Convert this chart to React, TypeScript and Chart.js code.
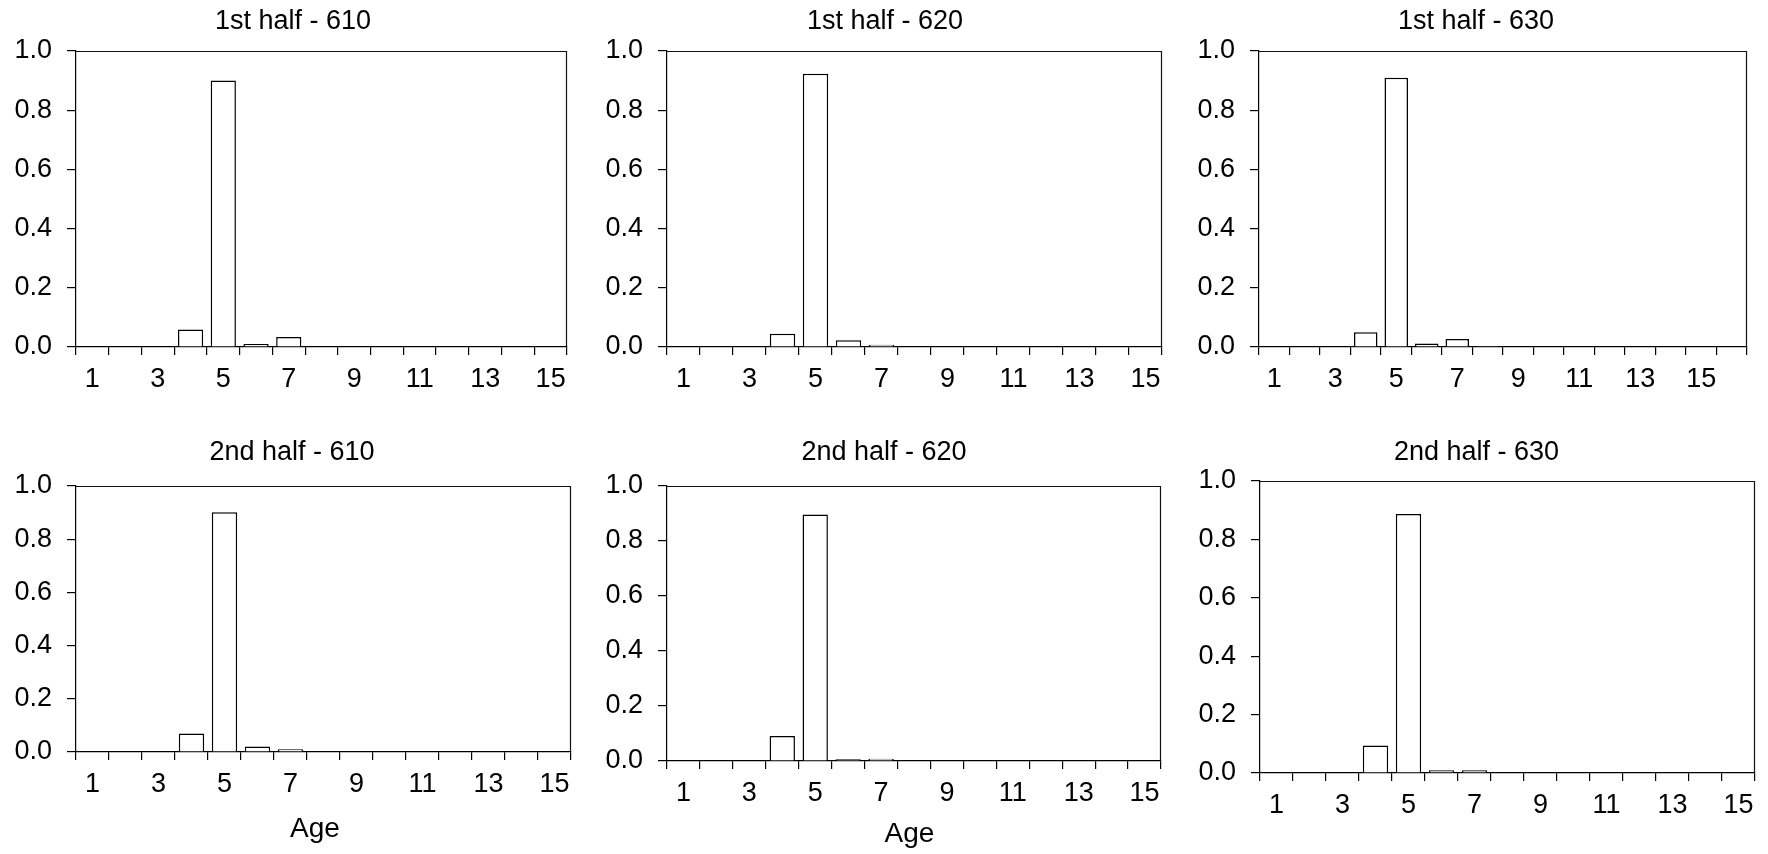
import React, { useEffect, useRef } from 'react';
import { Chart, registerables } from 'chart.js';

Chart.register(...registerables);

const FONT = "'Liberation Sans', Arial, Helvetica, sans-serif";

// ---- data ----
const AGES = ['1', '2', '3', '4', '5', '6', '7', '8', '9', '10', '11', '12', '13', '14', '15'];
const AGES_16 = [...AGES, '16'];

const FIRST_610 = [0, 0, 0, 0.059, 0.9, 0.01, 0.034, 0, 0, 0, 0, 0, 0, 0, 0];
const FIRST_620 = [0, 0, 0, 0.045, 0.923, 0.023, 0.008, 0.002, 0.001, 0, 0, 0, 0, 0, 0];
const FIRST_630 = [0, 0, 0, 0.05, 0.91, 0.012, 0.027, 0.003, 0.001, 0, 0, 0, 0, 0, 0, 0];
const SECOND_610 = [0, 0, 0.002, 0.07, 0.901, 0.021, 0.01, 0, 0, 0, 0, 0, 0, 0, 0];
const SECOND_620 = [0, 0, 0.002, 0.091, 0.896, 0.006, 0.008, 0, 0, 0.002, 0, 0, 0, 0, 0];
const SECOND_630 = [0, 0, 0.001, 0.094, 0.887, 0.009, 0.009, 0.001, 0, 0, 0, 0, 0, 0, 0];

const TITLES = ['1st half - 610', '1st half - 620', '1st half - 630', '2nd half - 610', '2nd half - 620', '2nd half - 630'];
const X_TITLE = 'Age';
const Y_MIN = 0;
const Y_MAX = 1;
const Y_STEP = 0.2;

// ---- layout (page pixels) ----
const PANELS = [
  { title: TITLES[0], labels: AGES, values: FIRST_610, axisX: 76, plotRight: 567, plotTop: 51, plotBottom: 347, rowTop: 0, rowHeight: 420, titleX: 293, titleY: 21.5, xLabel: '', xLabelX: 0, xLabelY: 0 },
  { title: TITLES[1], labels: AGES, values: FIRST_620, axisX: 667, plotRight: 1162, plotTop: 51, plotBottom: 347, rowTop: 0, rowHeight: 420, titleX: 885, titleY: 21.5, xLabel: '', xLabelX: 0, xLabelY: 0 },
  { title: TITLES[2], labels: AGES_16, values: FIRST_630, axisX: 1259, plotRight: 1747, plotTop: 51, plotBottom: 347, rowTop: 0, rowHeight: 420, titleX: 1476, titleY: 21.5, xLabel: '', xLabelX: 0, xLabelY: 0 },
  { title: TITLES[3], labels: AGES, values: SECOND_610, axisX: 76, plotRight: 571, plotTop: 486, plotBottom: 752, rowTop: 420, rowHeight: 434, titleX: 292, titleY: 452.5, xLabel: X_TITLE, xLabelX: 315, xLabelY: 829.5 },
  { title: TITLES[4], labels: AGES, values: SECOND_620, axisX: 667, plotRight: 1161, plotTop: 486, plotBottom: 761, rowTop: 420, rowHeight: 434, titleX: 884, titleY: 452.5, xLabel: X_TITLE, xLabelX: 909.5, xLabelY: 834 },
  { title: TITLES[5], labels: AGES, values: SECOND_630, axisX: 1260, plotRight: 1755, plotTop: 481, plotBottom: 773, rowTop: 420, rowHeight: 434, titleX: 1476.5, titleY: 452.5, xLabel: '', xLabelX: 0, xLabelY: 0 },
];

const YW = 74;
const PR = 12;

const textPlugin = {
  id: 'panelText',
  afterDraw(chart: any, _args: any, opts: any) {
    const ctx = chart.ctx;
    ctx.save();
    ctx.fillStyle = '#000';
    ctx.textAlign = 'center';
    ctx.textBaseline = 'middle';
    for (const t of opts.items || []) {
      ctx.font = `${t.size}px ${FONT}`;
      ctx.fillText(t.text, t.x, t.y);
    }
    ctx.restore();
  },
};

const framePlugin = {
  id: 'frame',
  afterDatasetsDraw(chart: any) {
    const { ctx, chartArea: a } = chart;
    ctx.save();
    ctx.strokeStyle = '#111';
    ctx.lineWidth = 1.2;
    ctx.beginPath();
    ctx.moveTo(a.left, a.top + 0.5);
    ctx.lineTo(a.right - 0.5, a.top + 0.5);
    ctx.lineTo(a.right - 0.5, a.bottom);
    ctx.stroke();
    ctx.restore();
  },
};

function PanelChart({ p }: { p: (typeof PANELS)[number] }) {
  const ref = useRef<HTMLCanvasElement>(null);
  const left = p.axisX - YW;
  const width = p.plotRight - left + PR;
  const height = p.rowHeight;

  useEffect(() => {
    if (!ref.current) return;
    const items: any[] = [{ text: p.title, x: p.titleX - left, y: p.titleY - p.rowTop, size: 27 }];
    if (p.xLabel) items.push({ text: p.xLabel, x: p.xLabelX - left, y: p.xLabelY - p.rowTop, size: 28 });
    const chart = new Chart(ref.current, {
      type: 'bar',
      data: {
        labels: p.labels,
        datasets: [
          {
            data: p.values,
            backgroundColor: '#ffffff',
            borderColor: '#000000',
            borderWidth: 1.5,
            barPercentage: 0.77,
            categoryPercentage: 1,
          },
        ],
      },
      options: {
        responsive: false,
        animation: false,
        events: [],
        layout: { padding: { left: 0, right: PR, top: p.plotTop - p.rowTop, bottom: 0 } },
        plugins: {
          legend: { display: false },
          tooltip: { enabled: false },
          title: { display: false },
          panelText: { items },
        } as any,
        scales: {
          x: {
            type: 'category',
            offset: true,
            afterFit: (s: any) => {
              s.height = height - (p.plotBottom - p.rowTop);
            },
            grid: { offset: true, drawOnChartArea: false, drawTicks: true, tickLength: 8, color: '#000', lineWidth: 1.2 },
            border: { display: true, color: '#000', width: 1.2 },
            ticks: {
              autoSkip: false,
              maxRotation: 0,
              minRotation: 0,
              padding: 8,
              color: '#000',
              font: { family: FONT, size: 27 },
              callback: function (this: any, value: any) {
                const l = this.getLabelForValue(value);
                return Number(l) % 2 === 1 ? l : '';
              },
            },
          },
          y: {
            type: 'linear',
            min: Y_MIN,
            max: Y_MAX,
            afterFit: (s: any) => {
              s.width = YW;
            },
            grid: { drawOnChartArea: false, drawTicks: true, tickLength: 9, color: '#000', lineWidth: 1.2 },
            border: { display: true, color: '#000', width: 1.2 },
            ticks: {
              stepSize: Y_STEP,
              padding: 15,
              color: '#000',
              font: { family: FONT, size: 27 },
              callback: (v: any) => Number(v).toFixed(1),
            },
          },
        },
      } as any,
      plugins: [textPlugin as any, framePlugin as any],
    });
    return () => chart.destroy();
  }, []);

  return (
    <canvas
      ref={ref}
      width={width}
      height={height}
      style={{ position: 'absolute', left, top: p.rowTop, width, height }}
    />
  );
}

export default function App() {
  return (
    <div style={{ position: 'absolute', left: 0, top: 0, width: 1768, height: 854, background: '#fff', overflow: 'hidden' }}>
      {PANELS.map((p, i) => (
        <PanelChart key={i} p={p} />
      ))}
    </div>
  );
}
